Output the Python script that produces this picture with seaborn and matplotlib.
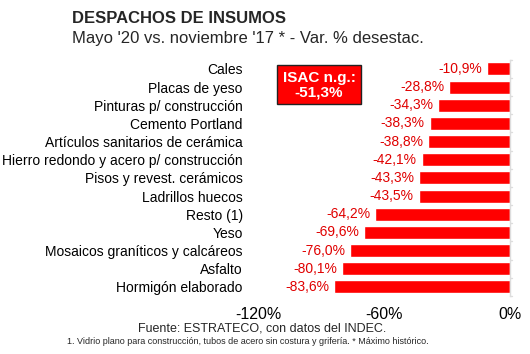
import matplotlib
matplotlib.use("Agg")
import matplotlib.pyplot as plt
from matplotlib.patches import Rectangle
import seaborn as sns
import pandas as pd

# datos
categorias = ["Cales", "Placas de yeso", "Pinturas p/ construcción", "Cemento Portland",
              "Artículos sanitarios de cerámica", "Hierro redondo y acero p/ construcción",
              "Pisos y revest. cerámicos", "Ladrillos huecos", "Resto (1)", "Yeso",
              "Mosaicos graníticos y calcáreos", "Asfalto", "Hormigón elaborado"]
variacion = [-10.9, -28.8, -34.3, -38.3, -38.8, -42.1, -43.3, -43.5, -64.2, -69.6, -76.0, -80.1, -83.6]
ticks_x = [-120, -60, 0]
isac = -51.3

df = pd.DataFrame({"cat": categorias, "var": variacion})

sns.set_theme(style="white")
plt.rcParams['font.family'] = ['Liberation Sans', 'DejaVu Sans']

fig = plt.figure(figsize=(5.3, 3.54), dpi=100)
ax = fig.add_axes([0.487, 0.164, 0.475, 0.667])

sns.barplot(data=df, x="var", y="cat", color="#ff0000", saturation=1, width=0.72,
            orient="h", ax=ax)

ax.set_xlim(-120, 0)
ax.set_ylim(len(categorias) - 0.5, -0.5)
ax.set_xticks(ticks_x)
ax.set_xticklabels([f"{t}%" for t in ticks_x], fontsize=11.5, color="black")
ax.set_xlabel("")
ax.set_ylabel("")
ax.tick_params(axis="x", length=0, pad=8)
ax.tick_params(axis="y", length=0, pad=11)
for lbl in ax.get_yticklabels():
    lbl.set_fontsize(10)
    lbl.set_color("black")

for s in ["left", "top", "bottom"]:
    ax.spines[s].set_visible(False)
ax.spines["right"].set_color("#dddddd")
ax.spines["right"].set_linewidth(1)

# marcas entre categorias del lado derecho
for k in range(len(categorias) + 1):
    ax.plot([0, 1.2], [k - 0.5, k - 0.5], color="#dddddd", lw=1, clip_on=False)

# etiquetas de valores
for i, v in enumerate(variacion):
    ax.text(v - 2.3, i, f"{v:.1f}%".replace(".", ","), ha="right", va="center",
            fontsize=10, color="#e00000")

# recuadro ISAC
fig.patches.append(Rectangle((0.5226, 0.706), 0.1585, 0.110, transform=fig.transFigure,
                             facecolor="#ff0000", edgecolor="#222222", lw=1))
isac_txt = "ISAC n.g.:\n" + f"{isac:.1f}%".replace(".", ",")
fig.text(0.602, 0.759, isac_txt, ha="center", va="center",
         fontsize=11, fontweight="bold", color="white", linespacing=1.05)

fig.text(0.136, 0.948, "DESPACHOS DE INSUMOS", fontsize=12, fontweight="bold", va="center")
fig.text(0.136, 0.892, "Mayo '20 vs. noviembre '17 * - Var. % desestac.", fontsize=12, va="center")
fig.text(0.494, 0.073, "Fuente: ESTRATECO, con datos del INDEC.", fontsize=9, ha="center", va="center")
fig.text(0.468, 0.036, "1. Vidrio plano para construcción, tubos de acero sin costura y grifería. * Máximo histórico.",
         fontsize=6.5, ha="center", va="center")

fig.savefig("out.png", dpi=100)
